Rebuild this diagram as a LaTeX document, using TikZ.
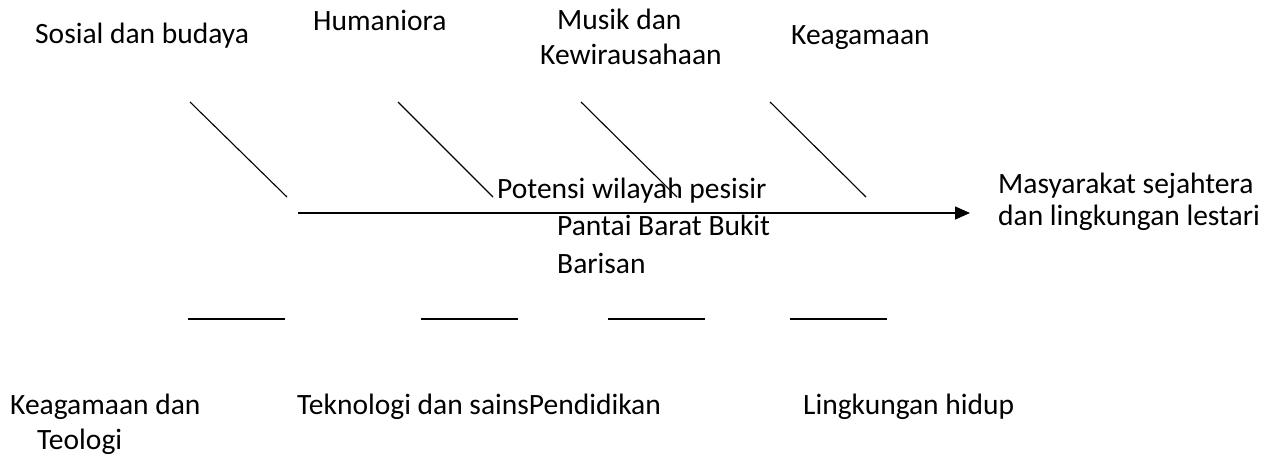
\documentclass[tikz,border=0pt]{standalone}
\usepackage{fontspec}
\setmainfont{Carlito}
\usetikzlibrary{arrows.meta}
\begin{document}
\begin{tikzpicture}[x=1pt,y=-1pt,
  lbl/.style={inner sep=0pt, font=\fontsize{29.5}{35}\selectfont, anchor=base west},
  bone/.style={line width=1.1pt, black},
  spine/.style={line width=1.3pt, black, -{Triangle[length=15pt,width=13pt]}}]
\useasboundingbox (0,0) rectangle (1271,454);

% category labels above the spine
\node[lbl] (sos) at (35,44) {Sosial dan budaya};
\node[lbl] (hum) at (313,31) {Humaniora};
\node[lbl] (mus1) at (557,30) {Musik dan};
\node[lbl] (mus2) at (540,65) {Kewirausahaan};
\node[lbl] (kea) at (791,45) {Keagamaan};

% diagonal bones
\coordinate (d1a) at (190,102); \coordinate (d1b) at (287,197);
\coordinate (d2a) at (398,102); \coordinate (d2b) at (493,197);
\coordinate (d3a) at (581,102); \coordinate (d3b) at (677,197);
\coordinate (d4a) at (770,102); \coordinate (d4b) at (866,197);
\draw[bone] (d1a) -- (d1b);
\draw[bone] (d2a) -- (d2b);
\draw[bone] (d3a) -- (d3b);
\draw[bone] (d4a) -- (d4b);

% spine
\coordinate (sp0) at (298,213);
\coordinate (sp1) at (970,213);
\draw[spine] (sp0) -- (sp1);

% central problem text
\node[lbl] (pot1) at (497,199) {Potensi wilayah pesisir};
\node[lbl] (pot2) at (557,236) {Pantai Barat Bukit};
\node[lbl] (pot3) at (557,273) {Barisan};

% outcome
\node[lbl] (out1) at (998,194) {Masyarakat sejahtera};
\node[lbl] (out2) at (998,226) {dan lingkungan lestari};

% lower bones
\coordinate (h1a) at (188,319); \coordinate (h1b) at (285,319);
\coordinate (h2a) at (421,319); \coordinate (h2b) at (518,319);
\coordinate (h3a) at (608,319); \coordinate (h3b) at (705,319);
\coordinate (h4a) at (790,319); \coordinate (h4b) at (887,319);
\draw[bone] (h1a) -- (h1b);
\draw[bone] (h2a) -- (h2b);
\draw[bone] (h3a) -- (h3b);
\draw[bone] (h4a) -- (h4b);

% category labels below the spine
\node[lbl] (keg1) at (10,414) {Keagamaan dan};
\node[lbl] (keg2) at (37,449) {Teologi};
\node[lbl] (tek) at (297,414) {Teknologi dan sainsPendidikan};
\node[lbl] (lin) at (803,414) {Lingkungan hidup};
\end{tikzpicture}
\end{document}
